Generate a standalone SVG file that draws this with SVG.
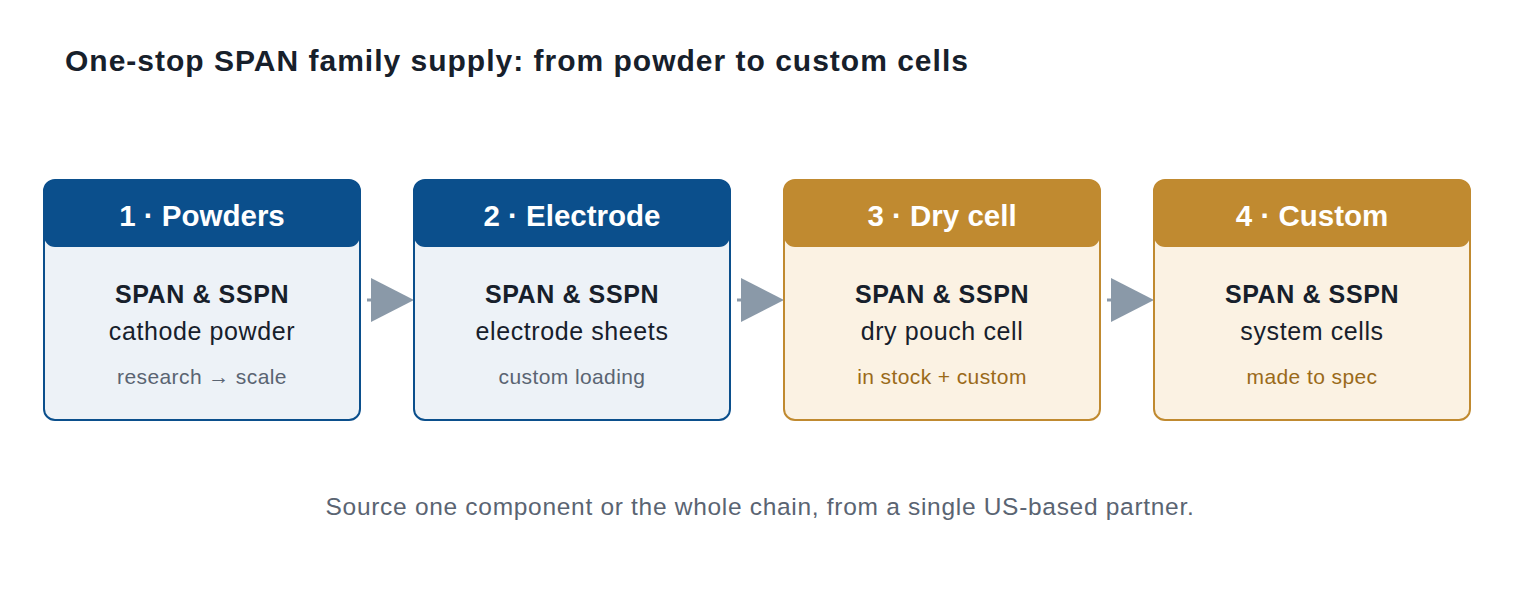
<svg xmlns="http://www.w3.org/2000/svg" width="1520" height="600" viewBox="0 0 1520 600">
<style>
text{font-family:"Liberation Sans",Arial,sans-serif;text-anchor:middle}
.title{font-size:30px;font-weight:bold;fill:#17202b;text-anchor:start;letter-spacing:1px}
.hd{font-size:29.5px;font-weight:bold;fill:#ffffff}
.b1{font-size:25px;font-weight:bold;fill:#17202b;letter-spacing:0.6px}
.b2{font-size:25px;fill:#17202b;letter-spacing:0.6px}
.sb{font-size:21px;fill:#5a6472;letter-spacing:0.4px}
.sg{font-size:21px;fill:#9a6a1a;letter-spacing:0.4px}
.foot{font-size:24.5px;fill:#5a6472;letter-spacing:0.7px}
.bbody{fill:#edf2f7;stroke:#0b4f8c;stroke-width:2}
.bhead{fill:#0b4f8c}
.gbody{fill:#fbf2e3;stroke:#c08a30;stroke-width:2}
.ghead{fill:#c08a30}
.arr{stroke:#8a99a8;stroke-width:3}
.ah{fill:#8a99a8}
</style>
<rect width="1520" height="600" fill="#ffffff"/>
<text class="title" x="65" y="71">One-stop SPAN family supply: from powder to custom cells</text>
<g id="connectors">
<line class="arr" x1="367" y1="300" x2="374" y2="300"/><polygon class="ah" points="371,278 414,300 371,322"/>
<line class="arr" x1="737" y1="300" x2="744" y2="300"/><polygon class="ah" points="741,278 784,300 741,322"/>
<line class="arr" x1="1107" y1="300" x2="1114" y2="300"/><polygon class="ah" points="1111,278 1154,300 1111,322"/>
</g>
<g id="node1">
<rect class="bbody" x="44" y="180" width="316" height="240" rx="11"/>
<rect class="bhead" x="44" y="180" width="316" height="67" rx="11"/>
<text class="hd" x="202" y="226">1 · Powders</text>
<text class="b1" x="202" y="303">SPAN &amp; SSPN</text>
<text class="b2" x="202" y="340">cathode powder</text>
<text class="sb" x="202" y="384">research → scale</text>
</g>
<g id="node2">
<rect class="bbody" x="414" y="180" width="316" height="240" rx="11"/>
<rect class="bhead" x="414" y="180" width="316" height="67" rx="11"/>
<text class="hd" x="572" y="226">2 · Electrode</text>
<text class="b1" x="572" y="303">SPAN &amp; SSPN</text>
<text class="b2" x="572" y="340">electrode sheets</text>
<text class="sb" x="572" y="384">custom loading</text>
</g>
<g id="node3">
<rect class="gbody" x="784" y="180" width="316" height="240" rx="11"/>
<rect class="ghead" x="784" y="180" width="316" height="67" rx="11"/>
<text class="hd" x="942" y="226">3 · Dry cell</text>
<text class="b1" x="942" y="303">SPAN &amp; SSPN</text>
<text class="b2" x="942" y="340">dry pouch cell</text>
<text class="sg" x="942" y="384">in stock + custom</text>
</g>
<g id="node4">
<rect class="gbody" x="1154" y="180" width="316" height="240" rx="11"/>
<rect class="ghead" x="1154" y="180" width="316" height="67" rx="11"/>
<text class="hd" x="1312" y="226">4 · Custom</text>
<text class="b1" x="1312" y="303">SPAN &amp; SSPN</text>
<text class="b2" x="1312" y="340">system cells</text>
<text class="sg" x="1312" y="384">made to spec</text>
</g>
<text class="foot" x="760" y="515">Source one component or the whole chain, from a single US-based partner.</text>
</svg>
